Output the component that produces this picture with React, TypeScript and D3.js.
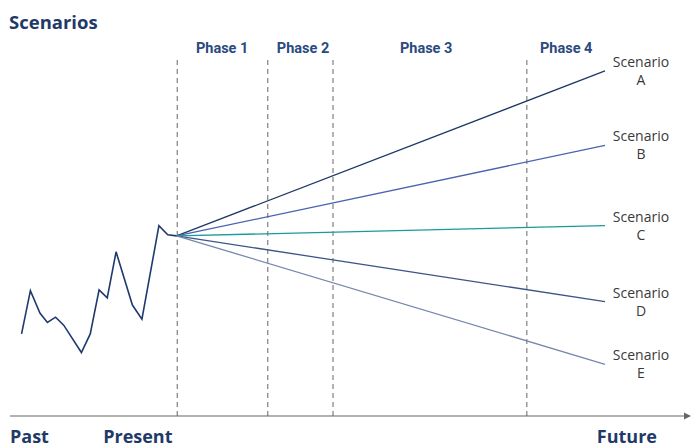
import React, { useEffect, useRef } from "react";
import * as d3 from "d3";

// time runs 0..100 across the frame, values 0..100 up the frame
const historyT = [1.7, 3.0, 4.4, 5.5, 6.7, 7.9, 10.5, 11.8, 13.1, 14.3, 15.6, 18.0, 19.4, 21.9, 23.2, 24.5];
const historyV = [21.6, 33.0, 27.1, 24.6, 26.0, 23.9, 16.7, 21.6, 33.2, 31.1, 43.2, 29.2, 25.5, 50.1, 47.7, 47.4];

const presentT = 24.5;
const horizonT = 87.5;

const scenarioNames = ["A", "B", "C", "D", "E"];
const scenarioEnd = [90.8, 71.2, 50.1, 30.1, 13.6];
const scenarioColors = ["#1f3864", "#4a62b0", "#1a9a9c", "#3d5585", "#7688aa"];

const phaseNames = ["Phase 1", "Phase 2", "Phase 3", "Phase 4"];
const phaseStart = [24.6, 37.9, 47.5, 76.0];
const phaseLabelT = [31.2, 43.1, 61.2, 81.8];

const timeLabels = ["Past", "Present", "Future"];
const timeLabelT = [0, 13.7, 86.3];

export default function App() {
  const svgRef = useRef(null);

  useEffect(() => {
    const width = 694;
    const height = 447;
    const svg = d3.select(svgRef.current).attr("width", width).attr("height", height);
    svg.selectAll("*").remove();

    const navy = "#1f3a68";
    const x = d3.scaleLinear().domain([0, 100]).range([10, 690]);
    const y = d3.scaleLinear().domain([0, 100]).range([416, 36]);

    // --- title ---
    svg.append("text")
      .attr("x", 9).attr("y", 29)
      .attr("font-family", "Open Sans, sans-serif")
      .attr("font-weight", 700).attr("font-size", 18.5)
      .attr("fill", navy)
      .text("Scenarios");

    // --- phase boundaries ---
    svg.selectAll(".phase-line")
      .data(phaseStart)
      .join("line")
      .attr("x1", d => x(d)).attr("x2", d => x(d))
      .attr("y1", 60).attr("y2", y(0))
      .attr("stroke", "#8a8a8a").attr("stroke-width", 1.3)
      .attr("stroke-dasharray", "5,4");

    svg.selectAll(".phase-label")
      .data(phaseNames)
      .join("text")
      .attr("x", (d, i) => x(phaseLabelT[i]))
      .attr("y", 53)
      .attr("text-anchor", "middle")
      .attr("font-family", "Roboto, sans-serif")
      .attr("font-weight", 700).attr("font-size", 14.5)
      .attr("fill", "#2b4a7e")
      .text(d => d);

    // --- history line ---
    const line = d3.line<number>().x((d, i) => x(historyT[i])).y(d => y(d));
    svg.append("path")
      .attr("d", line(historyV))
      .attr("fill", "none")
      .attr("stroke", "#1f3a6e")
      .attr("stroke-width", 1.6);

    // --- scenario fans ---
    const start = historyV[historyV.length - 1];
    svg.selectAll(".scenario")
      .data(scenarioEnd)
      .join("line")
      .attr("x1", x(presentT)).attr("y1", y(start))
      .attr("x2", x(horizonT)).attr("y2", d => y(d))
      .attr("stroke", (d, i) => scenarioColors[i])
      .attr("stroke-width", 1.3);

    const labels = svg.selectAll(".scenario-label")
      .data(scenarioEnd)
      .join("text")
      .attr("x", 641)
      .attr("y", d => y(d) - 4)
      .attr("text-anchor", "middle")
      .attr("font-family", "Open Sans, sans-serif")
      .attr("font-size", 14)
      .attr("fill", "#3a3a3a");
    labels.append("tspan").attr("x", 641).text("Scenario");
    labels.append("tspan").attr("x", 641).attr("dy", 18).text((d, i) => scenarioNames[i]);

    // --- time axis ---
    svg.append("line")
      .attr("x1", x(0)).attr("x2", x(100) - 4)
      .attr("y1", y(0)).attr("y2", y(0))
      .attr("stroke", "#666").attr("stroke-width", 1.2);
    svg.append("path")
      .attr("d", `M${x(100) + 1},${y(0)} L${x(100) - 6},${y(0) - 3.5} L${x(100) - 6},${y(0) + 3.5}Z`)
      .attr("fill", "#666");

    svg.selectAll(".time-label")
      .data(timeLabels)
      .join("text")
      .attr("x", (d, i) => x(timeLabelT[i]))
      .attr("y", 443)
      .attr("font-family", "Open Sans, sans-serif")
      .attr("font-weight", 700).attr("font-size", 18)
      .attr("fill", navy)
      .text(d => d);
  }, []);

  return (
    <svg ref={svgRef} style={{ position: "absolute", left: 0, top: 0, background: "#fff" }}></svg>
  );
}
